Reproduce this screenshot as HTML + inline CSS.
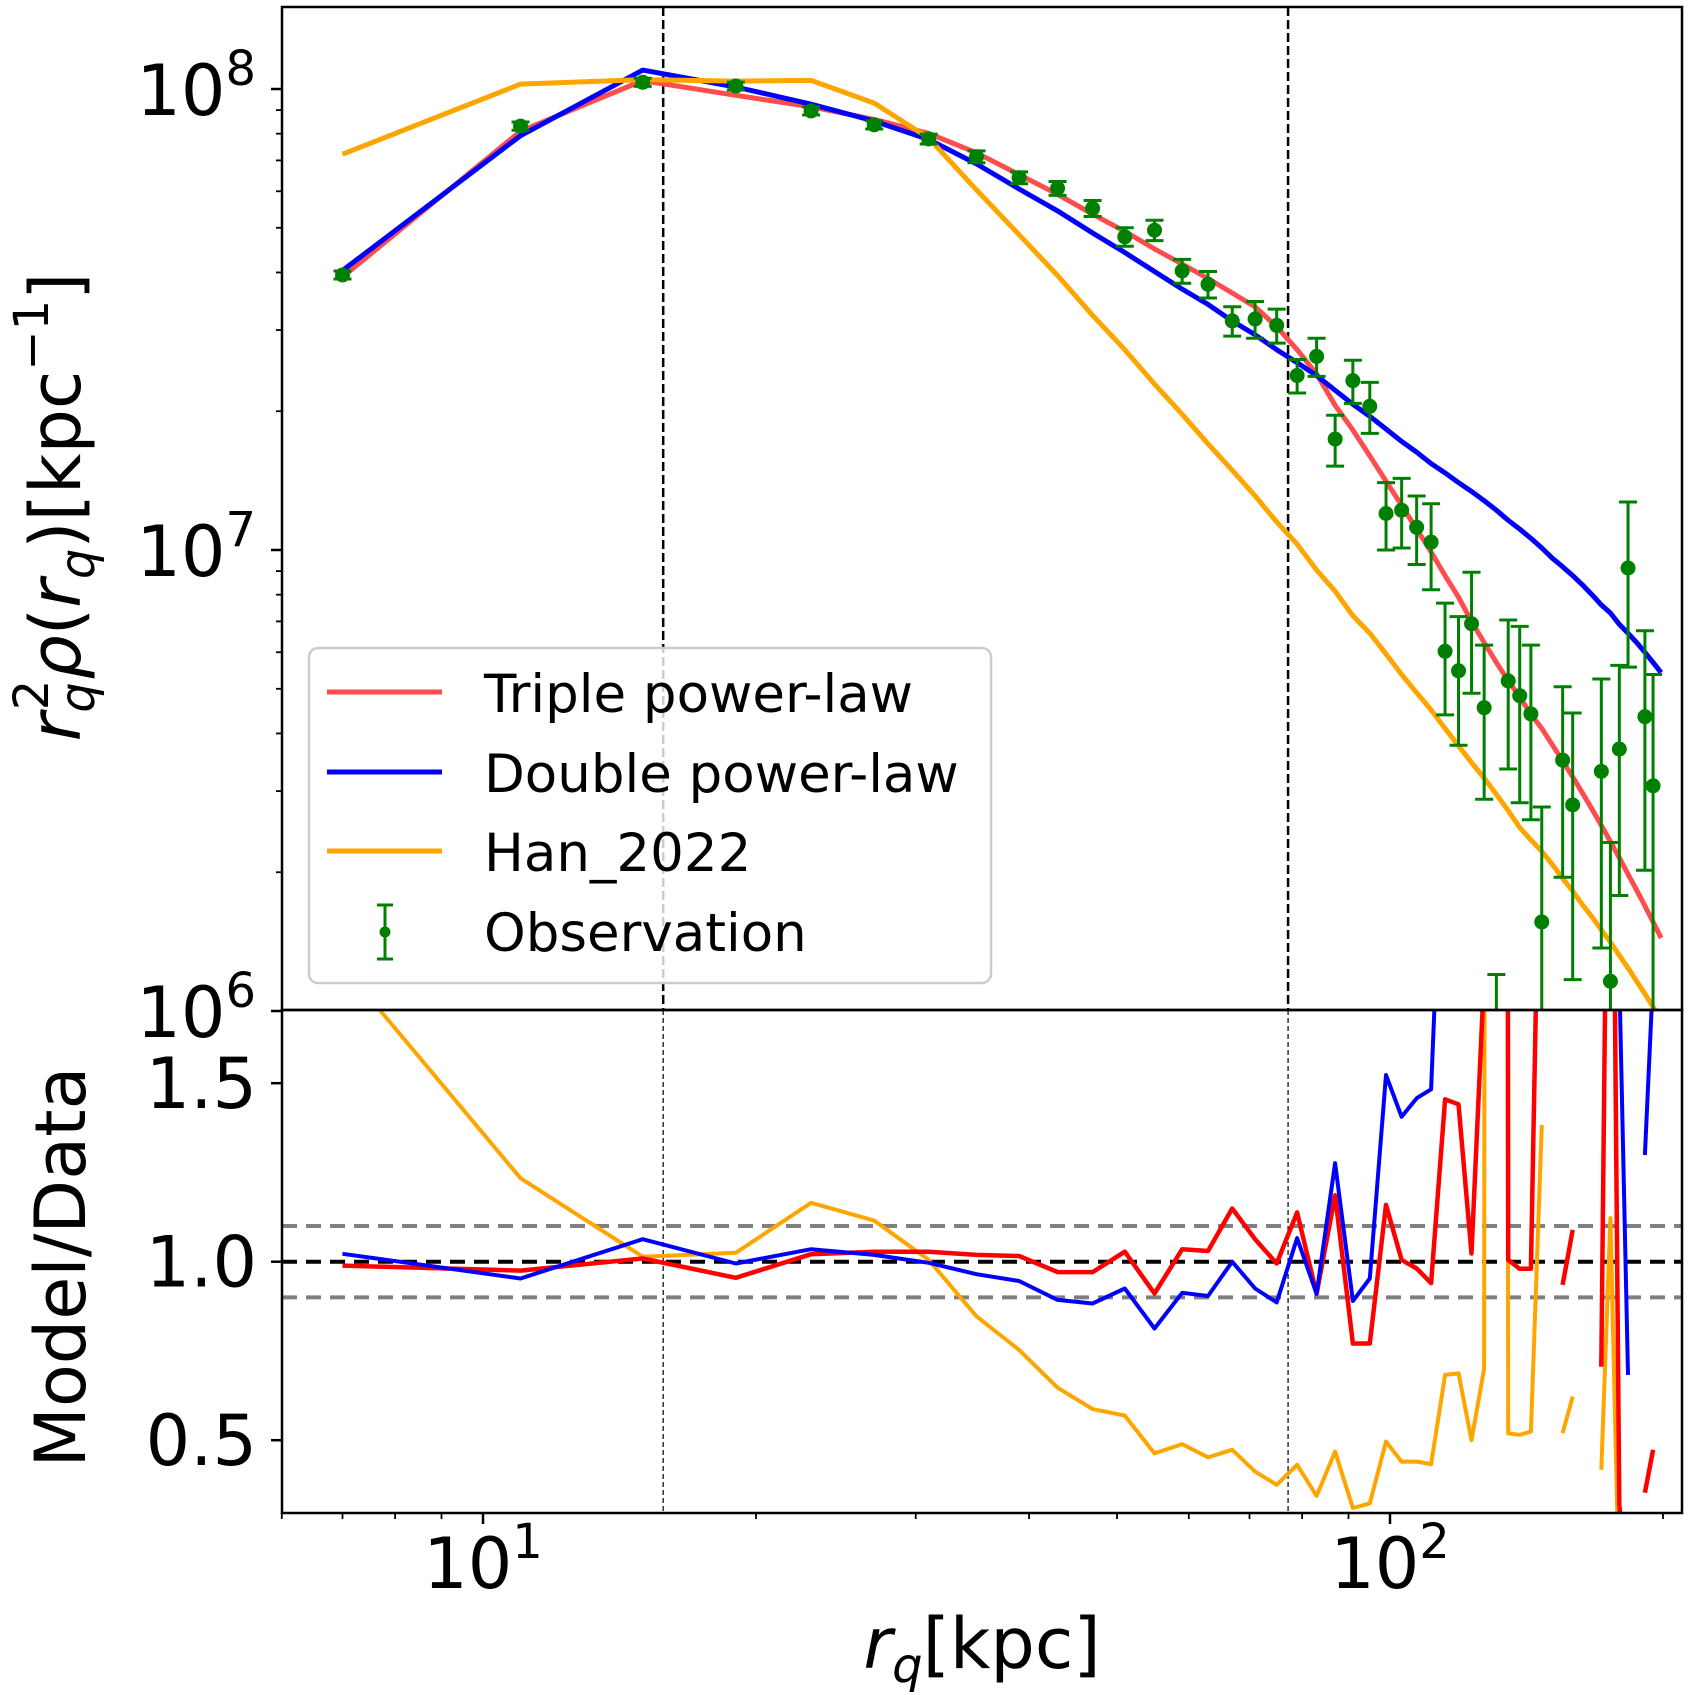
<!DOCTYPE html>
<html>
<head>
<meta charset="utf-8">
<style>
html,body{margin:0;padding:0;background:#fff;}
svg{display:block;font-family:"DejaVu Sans","Liberation Sans",sans-serif;}
</style>
</head>
<body>
<svg id="chart" width="1688" height="1695" viewBox="0 0 1688 1695" xmlns="http://www.w3.org/2000/svg">
<defs>
<clipPath id="clipTop"><rect x="282" y="7" width="1400" height="1004"/></clipPath>
<clipPath id="clipBot"><rect x="282" y="1010" width="1400" height="503"/></clipPath>
</defs>
<rect x="0" y="0" width="1688" height="1695" fill="#fff"/>
<g id="topLayer" clip-path="url(#clipTop)"></g>
<g id="botLayer" clip-path="url(#clipBot)"></g>
<g id="axesLayer"></g>
<text x="80" y="507" transform="rotate(-90 80 507)" text-anchor="middle" font-size="70"><tspan font-style="italic">r</tspan><tspan font-size="48" font-style="italic" baseline-shift="-14">q</tspan><tspan font-size="48" dx="-28" baseline-shift="32">2</tspan><tspan font-style="italic">ρ</tspan>(<tspan font-style="italic">r</tspan><tspan font-size="48" font-style="italic" baseline-shift="-14">q</tspan>)[kpc<tspan font-size="48" baseline-shift="32">−1</tspan>]</text>
<text x="85" y="1267" transform="rotate(-90 85 1267)" text-anchor="middle" font-size="70">Model/Data</text>
<text x="982" y="1668" text-anchor="middle" font-size="70"><tspan font-style="italic">r</tspan><tspan font-size="48" font-style="italic" baseline-shift="-14">q</tspan>[kpc]</text>
<g id="legend">
<rect x="309" y="648" width="682" height="335" rx="9" fill="#fff" fill-opacity="0.8" stroke="#cccccc" stroke-width="2.5"/>
<line x1="327" y1="692" x2="442" y2="692" stroke="#ff4d4d" stroke-width="5"/>
<text x="484" y="712" font-size="53">Triple power-law</text>
<line x1="327" y1="772" x2="442" y2="772" stroke="#0000ff" stroke-width="5"/>
<text x="484" y="792" font-size="53">Double power-law</text>
<line x1="327" y1="851" x2="442" y2="851" stroke="#ffa500" stroke-width="5"/>
<text x="484" y="871" font-size="53">Han_2022</text>
<g>
<line x1="385" y1="905" x2="385" y2="959" stroke="#008000" stroke-width="3"/>
<line x1="377" y1="905" x2="393" y2="905" stroke="#008000" stroke-width="3"/>
<line x1="377" y1="959" x2="393" y2="959" stroke="#008000" stroke-width="3"/>
<circle cx="385" cy="932" r="5.5" fill="#008000"/>
</g>
<text x="484" y="951" font-size="53">Observation</text>
</g>
</svg>
<script>
const radii = [7,11,15,19,23,27,31,35,39,43,47,51,55,59,63,67,71,75,79,83,87,91,95,99,103,107,111,115,119,123,127,131,135,139,143,147,151,155,159,163,167,171,175,179,183,187,191,195,199];
const observed = [3.95e7,8.31e7,1.034e8,1.015e8,8.96e7,8.36e7,7.79e7,7.13e7,6.42e7,6.09e7,5.51e7,4.78e7,4.94e7,4.03e7,3.77e7,3.14e7,3.17e7,3.07e7,2.39e7,2.63e7,1.74e7,2.33e7,2.05e7,1.20e7,1.22e7,1.12e7,1.04e7,6.03e6,5.47e6,6.92e6,4.55e6,7e5,5.2e6,4.83e6,4.41e6,1.56e6,null,3.5e6,2.8e6,null,null,3.31e6,1.16e6,3.70e6,9.14e6,null,4.35e6,3.08e6,null];
const observedErr = [7.9e5,1.7e6,2.1e6,2.0e6,1.8e6,1.7e6,1.9e6,2.1e6,1.9e6,2.1e6,2.2e6,2.2e6,2.5e6,2.4e6,2.5e6,2.3e6,2.9e6,2.6e6,2.0e6,2.5e6,2.2e6,2.5e6,2.6e6,2.0e6,2.1e6,1.9e6,2.2e6,1.64e6,1.70e6,2.03e6,1.67e6,5e5,1.85e6,2.0e6,1.81e6,1.21e6,null,1.55e6,1.63e6,null,null,1.94e6,1.16e6,1.92e6,3.57e6,null,2.33e6,2.29e6,null];
const triplePL = [3.91e7,8.10e7,1.043e8,9.69e7,9.15e7,8.59e7,8.01e7,7.27e7,6.52e7,5.91e7,5.35e7,4.91e7,4.50e7,4.17e7,3.88e7,3.61e7,3.37e7,3.05e7,2.72e7,2.41e7,2.06e7,1.82e7,1.60e7,1.41e7,1.25e7,1.11e7,9.9e6,8.8e6,7.9e6,7.0e6,6.3e6,5.7e6,5.2e6,4.8e6,4.4e6,4.1e6,3.78e6,3.49e6,3.22e6,2.97e6,2.74e6,2.53e6,2.33e6,2.15e6,1.98e6,1.83e6,1.69e6,1.56e6,1.44e6];
const doublePL = [4.04e7,7.92e7,1.099e8,1.01e8,9.27e7,8.52e7,7.77e7,6.88e7,6.07e7,5.44e7,4.87e7,4.42e7,4.02e7,3.68e7,3.41e7,3.14e7,2.93e7,2.72e7,2.55e7,2.39e7,2.22e7,2.07e7,1.95e7,1.83e7,1.72e7,1.63e7,1.54e7,1.47e7,1.40e7,1.34e7,1.28e7,1.22e7,1.16e7,1.11e7,1.06e7,1.01e7,9.6e6,9.2e6,8.8e6,8.4e6,8.0e6,7.6e6,7.3e6,6.9e6,6.6e6,6.3e6,6.0e6,5.7e6,5.42e6];
const han2022 = [7.22e7,1.025e8,1.048e8,1.04e8,1.044e8,9.32e7,7.83e7,6.04e7,4.83e7,3.94e7,3.23e7,2.72e7,2.29e7,1.97e7,1.70e7,1.49e7,1.31e7,1.15e7,1.03e7,9.05e6,8.14e6,7.2e6,6.6e6,5.95e6,5.37e6,4.9e6,4.5e6,4.1e6,3.76e6,3.46e6,3.2e6,2.95e6,2.72e6,2.5e6,2.35e6,2.22e6,2.08e6,1.94e6,1.82e6,1.70e6,1.60e6,1.50e6,1.41e6,1.32e6,1.24e6,1.16e6,1.09e6,1.02e6,9.6e5];
const ratioTriple = [0.989,0.975,1.009,0.955,1.021,1.028,1.028,1.019,1.016,0.971,0.971,1.028,0.911,1.035,1.03,1.149,1.063,0.995,1.138,0.91,1.186,0.771,0.771,1.159,1.005,0.981,0.94,1.455,1.441,1.023,1.8,30,1.005,0.98,0.98,2.6,null,0.935,1.089,null,null,0.706,3.16,0.32,0.05,null,0.353,0.473,null];
const ratioDouble = [1.022,0.953,1.063,0.995,1.035,1.019,0.997,0.965,0.946,0.893,0.883,0.925,0.813,0.913,0.904,1.0,0.925,0.886,1.066,0.91,1.276,0.89,0.953,1.523,1.406,1.458,1.483,2.44,3,3,3,10,3,3,3,3,null,3,3,null,null,3,5,1.8,0.683,null,1.299,1.8,null];
const ratioHan = [1.83,1.234,1.014,1.025,1.165,1.115,1.005,0.847,0.753,0.647,0.587,0.569,0.463,0.489,0.452,0.473,0.412,0.375,0.431,0.344,0.468,0.31,0.323,0.496,0.44,0.44,0.433,0.683,0.687,0.5,0.7,30,0.519,0.515,0.524,1.383,null,0.52,0.622,null,null,0.417,1.122,0.05,null,null,null,0.28,0.2];
const dividers = [15.8, 77.2];
const xMajorTicks = [10, 100];
const xMajorLabels = ["1", "2"];
const xMinorTicks = [6,7,8,9,20,30,40,50,60,70,80,90,200];
const yMajorTicks = [1e6, 1e7, 1e8];
const yMajorLabels = ["6", "7", "8"];
const yMinorTicks = [2e6,3e6,4e6,5e6,6e6,7e6,8e6,9e6,2e7,3e7,4e7,5e7,6e7,7e7,8e7,9e7];
const ratioTicks = [0.5, 1.0, 1.5];
const ratioTickLabels = ["0.5", "1.0", "1.5"];
const ratioRefLevels = [0.9, 1.0, 1.1];

const NS = "http://www.w3.org/2000/svg";
function xs(r){ return 483 + 907 * (Math.log10(r) - 1); }
function ys(v){ return 550 - 461 * (Math.log10(v) - 7); }
function yr(q){ return 1261.7 - 357 * (q - 1); }
function mk(tag, attrs, parent){
  const el = document.createElementNS(NS, tag);
  for (const k in attrs) el.setAttribute(k, attrs[k]);
  parent.appendChild(el);
  return el;
}
const topL = document.getElementById('topLayer');
const botL = document.getElementById('botLayer');
const axL = document.getElementById('axesLayer');

function segments(vals, yf){
  const segs = []; let cur = [];
  for (let i = 0; i < radii.length; i++){
    const v = vals[i];
    if (v === null || v === undefined || v <= 0){ if (cur.length) segs.push(cur); cur = []; continue; }
    cur.push(xs(radii[i]).toFixed(1) + ',' + yf(v).toFixed(1));
  }
  if (cur.length) segs.push(cur);
  return segs;
}
function drawSeries(vals, yf, color, width, parent, name){
  const g = mk('g', {}, parent);
  
  
  segments(vals, yf).forEach(s => {
    const p = mk('polyline', {points: s.join(' '), fill: 'none', stroke: color, 'stroke-width': width, 'stroke-linejoin': 'round'}, g);
    
    
  });
}

dividers.forEach((d, i) => {
  const l = mk('line', {x1: xs(d), y1: 7, x2: xs(d), y2: 1010, stroke: '#000', 'stroke-width': 2.5, 'stroke-dasharray': '9,4'}, topL);
  
  
  const b = mk('line', {x1: xs(d), y1: 1010, x2: xs(d), y2: 1513, stroke: '#000', 'stroke-width': 1.2, 'stroke-dasharray': '5,3'}, botL);
  
  
});

drawSeries(triplePL, ys, '#ff4d4d', 5, topL, 'triple-power-law-line');
drawSeries(doublePL, ys, '#0000ff', 5, topL, 'double-power-law-line');
drawSeries(han2022, ys, '#ffa500', 5, topL, 'han-2022-line');

const obsG = mk('g', {}, topL);


for (let i = 0; i < radii.length; i++){
  const v = observed[i]; if (v === null) continue;
  const e = observedErr[i] || 0;
  const x = xs(radii[i]);
  const yTop = ys(v + e);
  const lo = v - e;
  const yBot = lo > 0 ? ys(lo) : 1100;
  const g = mk('g', {}, obsG);
  
  
  mk('line', {x1: x, y1: yTop, x2: x, y2: yBot, stroke: '#008000', 'stroke-width': 3}, g);
  mk('line', {x1: x - 9, y1: yTop, x2: x + 9, y2: yTop, stroke: '#008000', 'stroke-width': 3}, g);
  mk('line', {x1: x - 9, y1: yBot, x2: x + 9, y2: yBot, stroke: '#008000', 'stroke-width': 3}, g);
  mk('circle', {cx: x, cy: ys(v), r: 7.5, fill: '#008000'}, g);
}

ratioRefLevels.forEach(q => {
  const l = mk('line', {x1: 282, y1: yr(q), x2: 1682, y2: yr(q), stroke: q === 1 ? '#000' : '#808080', 'stroke-width': 4, 'stroke-dasharray': '15,9'}, botL);
  
  
});
drawSeries(ratioHan, yr, '#ffa500', 4, botL, 'ratio-han-2022-line');
drawSeries(ratioTriple, yr, '#ff0000', 4.5, botL, 'ratio-triple-line');
drawSeries(ratioDouble, yr, '#0000ff', 4, botL, 'ratio-double-line');

[[282,7,1400,1003],[282,1010,1400,503]].forEach((r, i) => {
  const s = mk('rect', {x: r[0], y: r[1], width: r[2], height: r[3], fill: 'none', stroke: '#000', 'stroke-width': 2.5}, axL);
  
  
});

xMajorTicks.forEach((t, i) => {
  const x = xs(t);
  const l = mk('line', {x1: x, y1: 1513, x2: x, y2: 1524, stroke: '#000', 'stroke-width': 2.5}, axL);
  
  
  const tx = mk('text', {x: x, y: 1588, 'text-anchor': 'middle', 'font-size': 70}, axL);
  
  
  tx.innerHTML = '10<tspan font-size="48" baseline-shift="30">' + xMajorLabels[i] + '</tspan>';
});
xMinorTicks.forEach(t => {
  const x = xs(t);
  const l = mk('line', {x1: x, y1: 1513, x2: x, y2: 1519, stroke: '#000', 'stroke-width': 1.8}, axL);
  
  
});
yMajorTicks.forEach((t, i) => {
  const y = ys(t);
  const l = mk('line', {x1: 271, y1: y, x2: 282, y2: y, stroke: '#000', 'stroke-width': 2.5}, axL);
  
  
  const tx = mk('text', {x: 256, y: y + 26, 'text-anchor': 'end', 'font-size': 70}, axL);
  
  
  tx.innerHTML = '10<tspan font-size="48" baseline-shift="30">' + yMajorLabels[i] + '</tspan>';
});
yMinorTicks.forEach(t => {
  const y = ys(t);
  const l = mk('line', {x1: 276, y1: y, x2: 282, y2: y, stroke: '#000', 'stroke-width': 1.8}, axL);
  
  
});
ratioTicks.forEach((t, i) => {
  const y = yr(t);
  const l = mk('line', {x1: 271, y1: y, x2: 282, y2: y, stroke: '#000', 'stroke-width': 2.5}, axL);
  
  
  const tx = mk('text', {x: 257, y: y + 25, 'text-anchor': 'end', 'font-size': 70}, axL);
  
  
  tx.textContent = ratioTickLabels[i];
});
</script>
</body>
</html>
